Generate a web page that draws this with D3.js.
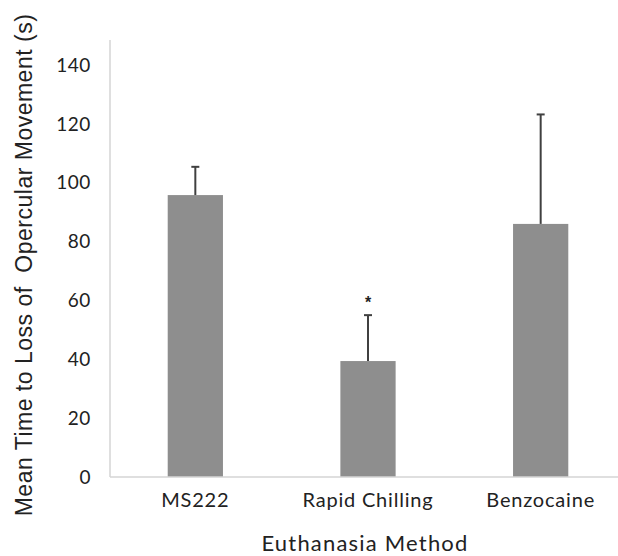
<!DOCTYPE html>
<html>
<head>
<meta charset="utf-8">
<script src="https://cdn.jsdelivr.net/npm/d3@7"></script>
<style>
body { margin: 0; background: #fff; }
svg { display: block; }
</style>
</head>
<body>
<svg width="618" height="556"></svg>
<script>
var categories = ["MS222", "Rapid Chilling", "Benzocaine"]
var means = [95.8, 39.4, 86.0]
var errTop = [105.4, 55.0, 123.2]
var marks = ["", "*", ""]
var yTicks = [0, 20, 40, 60, 80, 100, 120, 140]

var svg = d3.select("svg")
var plotLeft = 110, plotTop = 40, plotBottom = 477

var x = d3.scaleBand()
	.domain(categories)
	.range([109, 627])
	.paddingInner(0.68)
	.paddingOuter(0.34)

var y = d3.scaleLinear()
	.domain([0, 140])
	.range([plotBottom, 65])

// axis lines
svg.append("line")
	.attr("x1", plotLeft).attr("x2", plotLeft)
	.attr("y1", plotTop).attr("y2", plotBottom)
	.attr("stroke", "#d4d4d4").attr("stroke-width", 1.5)

svg.selectAll(".bar")
	.data(categories)
	.enter().append("rect")
	.attr("class", "bar")
	.attr("x", d => x(d))
	.attr("width", x.bandwidth())
	.attr("y", (d, i) => y(means[i]))
	.attr("height", (d, i) => plotBottom - y(means[i]))
	.attr("fill", "#8e8e8e")

svg.append("line")
	.attr("x1", plotLeft).attr("x2", 618)
	.attr("y1", plotBottom).attr("y2", plotBottom)
	.attr("stroke", "#d4d4d4").attr("stroke-width", 1.5)

// error bars
var err = svg.selectAll(".err")
	.data(categories)
	.enter().append("g")
	.attr("class", "err")
	.attr("transform", d => "translate(" + (x(d) + x.bandwidth() / 2) + ",0)")

err.append("line")
	.attr("y1", (d, i) => y(means[i]))
	.attr("y2", (d, i) => y(errTop[i]))
	.attr("stroke", "#404040").attr("stroke-width", 2)

err.append("line")
	.attr("x1", -4).attr("x2", 4)
	.attr("y1", (d, i) => y(errTop[i]))
	.attr("y2", (d, i) => y(errTop[i]))
	.attr("stroke", "#404040").attr("stroke-width", 2)

err.append("text")
	.attr("y", (d, i) => y(errTop[i]) - 7)
	.attr("text-anchor", "middle")
	.attr("font-family", "Liberation Sans, Arial, sans-serif")
	.attr("font-size", 16)
	.attr("font-weight", "bold")
	.attr("fill", "#222")
	.text((d, i) => marks[i])

// tick labels
svg.selectAll(".ytick")
	.data(yTicks)
	.enter().append("text")
	.attr("class", "ytick")
	.attr("x", 91)
	.attr("y", d => y(d))
	.attr("dy", "0.35em")
	.attr("text-anchor", "end")
	.attr("font-family", "Lato, 'Open Sans', sans-serif")
	.attr("font-size", 19)
	.attr("letter-spacing", 0.6)
	.attr("fill", "#222")
	.text(d => d)

svg.selectAll(".xtick")
	.data(categories)
	.enter().append("text")
	.attr("class", "xtick")
	.attr("x", d => x(d) + x.bandwidth() / 2)
	.attr("y", 500)
	.attr("dy", "0.35em")
	.attr("text-anchor", "middle")
	.attr("font-family", "Lato, 'Open Sans', sans-serif")
	.attr("font-size", 20)
	.attr("letter-spacing", 0.8)
	.attr("fill", "#222")
	.text(d => d)

svg.append("text")
	.attr("x", 365)
	.attr("y", 543)
	.attr("dy", "0.35em")
	.attr("text-anchor", "middle")
	.attr("font-family", "Lato, 'Open Sans', sans-serif")
	.attr("font-size", 22)
	.attr("letter-spacing", 1.2)
	.attr("fill", "#222")
	.text("Euthanasia Method")

svg.append("text")
	.attr("transform", "translate(24,265) rotate(-90)")
	.attr("dy", "0.35em")
	.attr("text-anchor", "middle")
	.attr("font-family", "Liberation Sans, Arial, sans-serif")
	.attr("font-size", 23)
	.attr("letter-spacing", 0.5)
	.style("white-space", "pre")
	.attr("fill", "#222")
	.text("Mean Time to Loss of  Opercular Movement (s)")
</script>
</body>
</html>
